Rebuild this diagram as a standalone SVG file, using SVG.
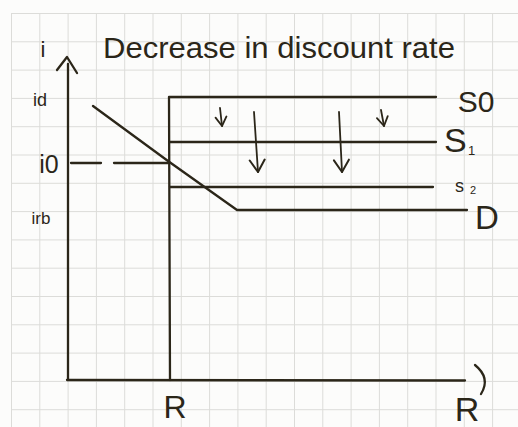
<svg xmlns="http://www.w3.org/2000/svg" width="518" height="427" viewBox="0 0 518 427">
  <defs>
    <style>
      .grid line { stroke: #dcdcd9; stroke-width: 1; }
      .ink { stroke: #2b2619; stroke-width: 2.3; fill: none; stroke-linecap: round; stroke-linejoin: round; }
      .thin { stroke: #2b2619; stroke-width: 1.8; fill: none; stroke-linecap: round; stroke-linejoin: round; }
      text { font-family: "Liberation Sans", "DejaVu Sans", sans-serif; fill: #2b2619; }
    </style>
    <marker id="vbig" viewBox="-14 -9 16 18" markerWidth="16" markerHeight="18" refX="0" refY="0" orient="auto" markerUnits="userSpaceOnUse">
      <path d="M-12,-7.5 L0,0 L-12,7.5" fill="none" stroke="#2b2619" stroke-width="2" stroke-linecap="round" stroke-linejoin="round"/>
    </marker>
    <marker id="vsmall" viewBox="-11 -7 13 14" markerWidth="13" markerHeight="14" refX="0" refY="0" orient="auto" markerUnits="userSpaceOnUse">
      <path d="M-9,-5.5 L0,0 L-9,5.5" fill="none" stroke="#2b2619" stroke-width="1.8" stroke-linecap="round" stroke-linejoin="round"/>
    </marker>
  </defs>
  <rect width="518" height="427" fill="#fcfcfb"/>
  <g id="grid" class="grid">
    <line x1="11.5" y1="13" x2="11.5" y2="427"/>
    <line x1="39.8" y1="13" x2="39.8" y2="427"/>
    <line x1="68.1" y1="13" x2="68.1" y2="427"/>
    <line x1="96.4" y1="13" x2="96.4" y2="427"/>
    <line x1="124.7" y1="13" x2="124.7" y2="427"/>
    <line x1="153" y1="13" x2="153" y2="427"/>
    <line x1="181.3" y1="13" x2="181.3" y2="427"/>
    <line x1="209.6" y1="13" x2="209.6" y2="427"/>
    <line x1="237.9" y1="13" x2="237.9" y2="427"/>
    <line x1="266.2" y1="13" x2="266.2" y2="427"/>
    <line x1="294.5" y1="13" x2="294.5" y2="427"/>
    <line x1="322.8" y1="13" x2="322.8" y2="427"/>
    <line x1="351.1" y1="13" x2="351.1" y2="427"/>
    <line x1="379.4" y1="13" x2="379.4" y2="427"/>
    <line x1="407.7" y1="13" x2="407.7" y2="427"/>
    <line x1="436" y1="13" x2="436" y2="427"/>
    <line x1="464.3" y1="13" x2="464.3" y2="427"/>
    <line x1="492.6" y1="13" x2="492.6" y2="427"/>
    <line x1="11" y1="13.5" x2="518" y2="13.5"/>
    <line x1="11" y1="41.8" x2="518" y2="41.8"/>
    <line x1="11" y1="70.1" x2="518" y2="70.1"/>
    <line x1="11" y1="98.4" x2="518" y2="98.4"/>
    <line x1="11" y1="126.7" x2="518" y2="126.7"/>
    <line x1="11" y1="155" x2="518" y2="155"/>
    <line x1="11" y1="183.3" x2="518" y2="183.3"/>
    <line x1="11" y1="211.6" x2="518" y2="211.6"/>
    <line x1="11" y1="239.9" x2="518" y2="239.9"/>
    <line x1="11" y1="268.2" x2="518" y2="268.2"/>
    <line x1="11" y1="296.5" x2="518" y2="296.5"/>
    <line x1="11" y1="324.8" x2="518" y2="324.8"/>
    <line x1="11" y1="353.1" x2="518" y2="353.1"/>
    <line x1="11" y1="381.4" x2="518" y2="381.4"/>
    <line x1="11" y1="409.7" x2="518" y2="409.7"/>
  </g>
  <g id="axes">
    <path class="ink" d="M68,380 L68,64"/>
    <path class="ink" d="M57,70 L67,57 L77,73"/>
    <path class="ink" d="M67,380 L465,380.5"/>
    <path class="ink" d="M475,365 Q491,378 481,394"/>
  </g>
  <g id="supply">
    <path class="ink" d="M170,380 L169,97 L436,97"/>
    <path class="ink" d="M170,142 L436,142"/>
    <path class="ink" d="M170,187 L433,187"/>
  </g>
  <g id="demand">
    <path class="ink" d="M93,106 L168,161 L237,210 L467,210"/>
  </g>
  <g id="i0-guide">
    <path class="ink" d="M71,163 L101,163 M114,163 L168,163"/>
  </g>
  <g id="connectors">
    <path class="thin" d="M220,108 L222,126" marker-end="url(#vsmall)"/>
    <path class="thin" d="M381,110 L384,126" marker-end="url(#vsmall)"/>
    <path class="thin" d="M254,112 L258,172" marker-end="url(#vbig)"/>
    <path class="thin" d="M339,112 L342,172" marker-end="url(#vbig)"/>
  </g>
  <g id="labels">
    <text x="103" y="58" font-size="29" textLength="352" lengthAdjust="spacingAndGlyphs">Decrease in discount rate</text>
    <text x="43" y="57" font-size="22" text-anchor="middle">i</text>
    <text x="40" y="106" font-size="18" text-anchor="middle">id</text>
    <text x="49" y="173" font-size="25" text-anchor="middle">i0</text>
    <text x="41" y="224" font-size="17" text-anchor="middle">irb</text>
    <text x="476" y="112" font-size="30" text-anchor="middle">S0</text>
    <text x="444" y="152" font-size="34">S</text>
    <text x="468" y="155" font-size="13">1</text>
    <text x="455" y="192" font-size="18">s</text>
    <text x="470" y="194" font-size="11">2</text>
    <text x="475" y="229" font-size="33">D</text>
    <text x="175" y="418" font-size="32" text-anchor="middle">R</text>
    <text x="467" y="421" font-size="34" text-anchor="middle">R</text>
  </g>
</svg>
